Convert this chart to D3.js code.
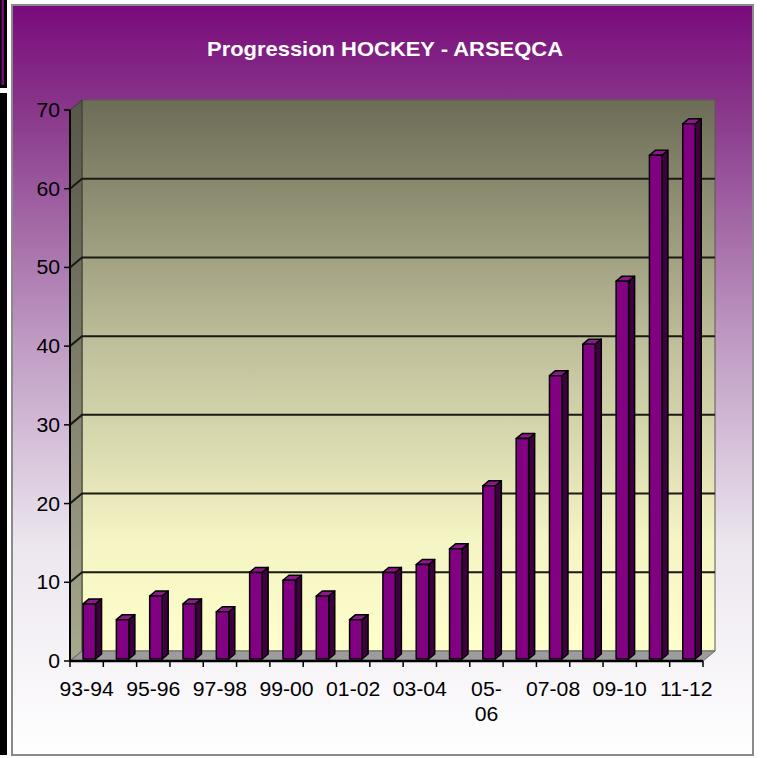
<!DOCTYPE html>
<html>
<head>
<meta charset="utf-8">
<script src="https://cdn.jsdelivr.net/npm/d3@7"></script>
<style>
  body { margin: 0; background: #ffffff; }
  svg { display: block; font-family: "Liberation Sans", Arial, sans-serif; }
</style>
</head>
<body>
<div class="chart"></div>
<script>
const seasons = ["93-94", "94-95", "95-96", "96-97", "97-98", "98-99", "99-00", "00-01", "01-02", "02-03",
                 "03-04", "04-05", "05-06", "06-07", "07-08", "08-09", "09-10", "10-11", "11-12"];
const counts = [7, 5, 8, 7, 6, 11, 10, 8, 5, 11, 12, 14, 22, 28, 36, 40, 48, 64, 68];
const yTicks = [0, 10, 20, 30, 40, 50, 60, 70];
const shownLabels = seasons.filter((d, i) => i % 2 === 0);
const wrappedLabels = ["05-06"];
const title = "Progression HOCKEY - ARSEQCA";

const totalWidth = 767, totalHeight = 758;
const margin = {top: 110, right: 64, bottom: 97, left: 70};
const depth = {dx: 12, dy: -10};

const svg = d3.select('.chart').append('svg')
  .attr('width', totalWidth).attr('height', totalHeight);

const defs = svg.append('defs');

const bg = defs.append('linearGradient').attr('id', 'bg')
  .attr('x1', 0).attr('y1', 0).attr('x2', 0).attr('y2', 1);
[[0, '#790a7b'], [0.15, '#8a3a8c'], [0.45, '#bf9bc3'], [0.72, '#ece6ef'], [1, '#ffffff']]
  .forEach(([o, c]) => bg.append('stop').attr('offset', o).attr('stop-color', c));

const wall = defs.append('linearGradient').attr('id', 'wall')
  .attr('x1', 0).attr('y1', 0).attr('x2', 0).attr('y2', 1);
[[0, '#6c6c57'], [0.45, '#c0c09c'], [0.8, '#f4f4c4'], [1, '#ffffcc']]
  .forEach(([o, c]) => wall.append('stop').attr('offset', o).attr('stop-color', c));

const side = defs.append('linearGradient').attr('id', 'side')
  .attr('x1', 0).attr('y1', 0).attr('x2', 0).attr('y2', 1);
[[0, '#56564a'], [1, '#a9a98e']]
  .forEach(([o, c]) => side.append('stop').attr('offset', o).attr('stop-color', c));

// left black strip of the screenshot
svg.append('rect').attr('x', 0).attr('y', 0).attr('width', 7).attr('height', 88).attr('fill', '#000');
svg.append('rect').attr('x', 1.5).attr('y', 0).attr('width', 2.5).attr('height', 85).attr('fill', '#790a7b');
svg.append('rect').attr('x', 0).attr('y', 93).attr('width', 7).attr('height', 662).attr('fill', '#000');

// chart frame
svg.append('rect')
  .attr('x', 12).attr('y', 5).attr('width', 741).attr('height', 750)
  .attr('fill', 'url(#bg)').attr('stroke', '#8a8a8a').attr('stroke-width', 2);

const x = d3.scaleBand()
  .domain(seasons)
  .range([margin.left, totalWidth - margin.right]);

const y = d3.scaleLinear()
  .domain([0, 70])
  .range([totalHeight - margin.bottom, margin.top]);

const x0 = x.range()[0], x1 = x.range()[1];
const y0 = y(0), yTop = y(70);
const pts = a => a.map(p => p.join(',')).join(' ');

// back wall, side wall, floor
svg.append('polygon')
  .attr('points', pts([[x0 + depth.dx, yTop + depth.dy], [x1 + depth.dx, yTop + depth.dy],
                       [x1 + depth.dx, y0 + depth.dy], [x0 + depth.dx, y0 + depth.dy]]))
  .attr('fill', 'url(#wall)').attr('stroke', '#5a5a4a').attr('stroke-width', 1);

svg.append('polygon')
  .attr('points', pts([[x0, yTop], [x0 + depth.dx, yTop + depth.dy],
                       [x0 + depth.dx, y0 + depth.dy], [x0, y0]]))
  .attr('fill', 'url(#side)').attr('stroke', '#3a3a30').attr('stroke-width', 1);

svg.append('polygon')
  .attr('points', pts([[x0, y0], [x0 + depth.dx, y0 + depth.dy],
                       [x1 + depth.dx, y0 + depth.dy], [x1, y0]]))
  .attr('fill', '#9c9c9c').attr('stroke', '#6a6a6a').attr('stroke-width', 1);

// gridlines
const grid = svg.append('g');
yTicks.filter(d => d > 0 && d < 70).forEach(t => {
  grid.append('polyline')
    .attr('points', pts([[x0, y(t)], [x0 + depth.dx, y(t) + depth.dy], [x1 + depth.dx, y(t) + depth.dy]]))
    .attr('fill', 'none').attr('stroke', '#1a1a14').attr('stroke-width', 2);
});

// bars
const bw = x.bandwidth();
const bar = {off: bw * 0.32, w: bw * 0.375, zx: 2.4, zy: -2, dx: 6, dy: -5};
const bars = svg.append('g').attr('stroke', '#000').attr('stroke-width', 1.5).attr('stroke-linejoin', 'round');

seasons.forEach((s, i) => {
  const bx = x(s) + bar.off + bar.zx;
  const bt = y(counts[i]) + bar.zy;
  const bb = y0 + bar.zy;
  const g = bars.append('g');
  g.append('polygon')
    .attr('points', pts([[bx + bar.w, bt], [bx + bar.w + bar.dx, bt + bar.dy],
                         [bx + bar.w + bar.dx, bb + bar.dy], [bx + bar.w, bb]]))
    .attr('fill', '#3e003e');
  g.append('polygon')
    .attr('points', pts([[bx, bt], [bx + bar.dx, bt + bar.dy],
                         [bx + bar.w + bar.dx, bt + bar.dy], [bx + bar.w, bt]]))
    .attr('fill', '#8f168f');
  g.append('rect')
    .attr('x', bx).attr('y', bt).attr('width', bar.w).attr('height', bb - bt)
    .attr('fill', '#820082');
});

// stretched text helper (source image is slightly widened)
function stretch(sel, k) {
  sel.each(function() {
    const len = this.getComputedTextLength();
    d3.select(this).attr('textLength', len * k).attr('lengthAdjust', 'spacingAndGlyphs');
  });
}

// y axis
const yAxis = svg.append('g');
yAxis.append('line')
  .attr('x1', x0).attr('x2', x0).attr('y1', yTop).attr('y2', y0)
  .attr('stroke', '#000').attr('stroke-width', 2);
yAxis.selectAll('.tick')
  .data(yTicks)
  .join('line')
    .attr('x1', x0 - 6).attr('x2', x0).attr('y1', d => y(d)).attr('y2', d => y(d))
    .attr('stroke', '#000').attr('stroke-width', 1.5);
yAxis.selectAll('text')
  .data(yTicks)
  .join('text')
    .attr('x', 60).attr('y', d => y(d) + 7)
    .attr('text-anchor', 'end')
    .attr('font-size', '20px')
    .attr('fill', '#000')
    .text(d => d)
    .call(stretch, 1.06);

// x axis
const xAxis = svg.append('g');
xAxis.append('line')
  .attr('x1', x0).attr('x2', x1).attr('y1', y0).attr('y2', y0)
  .attr('stroke', '#000').attr('stroke-width', 2.5);
xAxis.selectAll('.tick')
  .data(seasons.concat(['end']))
  .join('line')
    .attr('x1', (d, i) => x0 + i * bw).attr('x2', (d, i) => x0 + i * bw)
    .attr('y1', y0).attr('y2', y0 + 6)
    .attr('stroke', '#000').attr('stroke-width', 1.5);

shownLabels.forEach(s => {
  const lines = wrappedLabels.includes(s) ? [s.slice(0, 3), s.slice(3)] : [s];
  const t = xAxis.append('text')
    .attr('text-anchor', 'middle')
    .attr('font-size', '20px')
    .attr('fill', '#000');
  lines.forEach((l, j) => {
    t.append('tspan')
      .attr('x', x(s) + bw / 2)
      .attr('y', 696 + j * 25)
      .text(l)
      .call(stretch, 1.06);
  });
});

// title
svg.append('text')
  .attr('x', 385).attr('y', 56)
  .attr('text-anchor', 'middle')
  .attr('font-size', '21px')
  .attr('font-weight', 'bold')
  .attr('fill', '#ffffff')
  .text(title)
  .attr('textLength', 356)
  .attr('lengthAdjust', 'spacingAndGlyphs');
</script>
</body>
</html>
